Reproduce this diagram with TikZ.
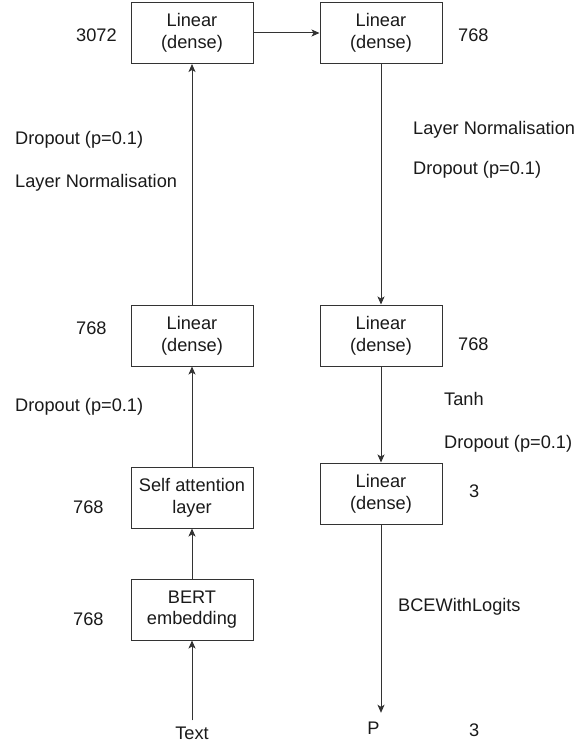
\documentclass[tikz,border=0pt]{standalone}
\usepackage{fontspec}
\setmainfont{Liberation Sans}
\usepackage{xcolor}
\usetikzlibrary{arrows.meta,positioning}
\definecolor{ink}{HTML}{1A1A1A}
\definecolor{edge}{HTML}{333333}
\tikzset{
    every picture/.style={line cap=butt,line join=miter},
    layerbox/.style={draw=edge,fill=white,line width=1pt,
      minimum width=122pt,minimum height=61pt,inner sep=2pt,
      text=ink,align=center,font=\fontsize{18.2}{21.7}\selectfont},
    sizelabel/.style={anchor=base west,inner sep=0pt,text=ink,
      font=\fontsize{18.2}{21}\selectfont},
    oplabel/.style={anchor=base west,inner sep=0pt,text=ink,
      font=\fontsize{18.2}{21}\selectfont},
    endlabel/.style={anchor=base,inner sep=0pt,text=ink,
      font=\fontsize{18.2}{21}\selectfont},
    flowarrow/.style={-{Stealth[length=8pt,width=7pt,inset=2pt]},draw=edge,
      line width=1pt}
}
\begin{document}
\begin{tikzpicture}[x=1pt,y=-1pt]
  \useasboundingbox[fill=white] (0,0) rectangle (580,746);
  % encoder column
  \node[layerbox] (lin3072) at (192,33) {Linear\\(dense)};
  \node[layerbox] (linenc) at (192,335.5) {Linear\\(dense)};
  \node[layerbox] (selfatt) at (192,497.5) {Self attention\\layer};
  \node[layerbox] (bert) at (192,609.5) {BERT\\embedding};
  \node[endlabel] (txt) at (192,739) {Text};
  % head column
  \node[layerbox] (lin768) at (381,33) {Linear\\(dense)};
  \node[layerbox] (linhid) at (381,335.5) {Linear\\(dense)};
  \node[layerbox] (linout) at (381,493.5) {Linear\\(dense)};
  \node[endlabel] (pred) at (373.5,734) {P};
  % sizes
  \node[sizelabel] (s1) at (76,42) {3072};
  \node[sizelabel] (s2) at (76,334) {768};
  \node[sizelabel] (s3) at (73,513) {768};
  \node[sizelabel] (s4) at (73,625) {768};
  \node[sizelabel] (s5) at (458,42) {768};
  \node[sizelabel] (s6) at (458,350) {768};
  \node[sizelabel] (s7) at (469,497) {3};
  \node[sizelabel] (s8) at (469,736.5) {3};
  % operations between layers
  \node[oplabel] (op1) at (15,145) {Dropout (p=0.1)};
  \node[oplabel] (op2) at (15,187) {Layer Normalisation};
  \node[oplabel] (op3) at (15,411) {Dropout (p=0.1)};
  \node[oplabel] (op4) at (413,135) {Layer Normalisation};
  \node[oplabel] (op5) at (413,175) {Dropout (p=0.1)};
  \node[oplabel] (op6) at (444,405.5) {Tanh};
  \node[oplabel] (op7) at (444,448) {Dropout (p=0.1)};
  \node[oplabel] (op8) at (398,611.5) {BCEWithLogits};
  % connectors
  \draw[flowarrow] ([yshift=6pt]txt.north) -- (bert.south);
  \draw[flowarrow] (bert) -- (selfatt);
  \draw[flowarrow] (selfatt) -- (linenc);
  \draw[flowarrow] (linenc) -- (lin3072);
  \draw[flowarrow] (lin3072) -- (lin768);
  \draw[flowarrow] (lin768) -- (linhid);
  \draw[flowarrow] (linhid) -- (linout);
  \draw[flowarrow] (linout.south) -- ([yshift=8.5pt]linout.south |- pred.north);
\end{tikzpicture}
\end{document}
